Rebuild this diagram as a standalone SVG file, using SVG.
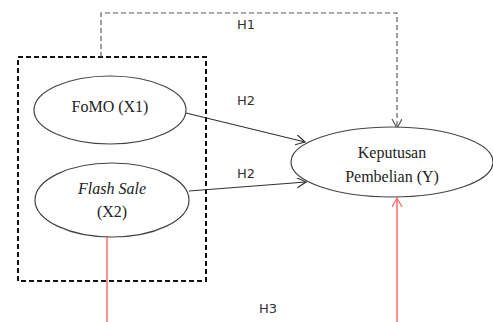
<svg xmlns="http://www.w3.org/2000/svg" width="493" height="322" viewBox="0 0 493 322">
<style>
.node{fill:#fff;stroke:#444;stroke-width:1.2}
.lbl{font-family:"Liberation Serif",serif;font-size:16px;fill:#222;text-anchor:middle}
.h{font-family:"DejaVu Sans","Liberation Sans",sans-serif;font-size:13px;fill:#333;text-anchor:middle}
.arr{fill:none;stroke:#333;stroke-width:1.2}
.red{fill:none;stroke:#ff6b6b;stroke-width:1.5}
</style>
<defs>
<marker id="ah" markerWidth="12" markerHeight="12" refX="10" refY="5" orient="auto" markerUnits="userSpaceOnUse"><path d="M1,0 L10,5 L1,10" fill="none" stroke="#333" stroke-width="1.2"/></marker>
<marker id="ahg" markerWidth="12" markerHeight="12" refX="10" refY="5" orient="auto" markerUnits="userSpaceOnUse"><path d="M1,0 L10,5 L1,10" fill="none" stroke="#555" stroke-width="1.2"/></marker>
<marker id="ahr" markerWidth="12" markerHeight="12" refX="10" refY="5" orient="auto" markerUnits="userSpaceOnUse"><path d="M1,0 L10,5 L1,10" fill="none" stroke="#ff6b6b" stroke-width="1.3"/></marker>
</defs>
<rect width="493" height="322" fill="#fff"/>
<rect id="group-box" x="18" y="57" width="188" height="224" fill="none" stroke="#111" stroke-width="2" stroke-dasharray="5,3"/>
<g id="connectors">
<path d="M101,57 L101,13 L397,13 L397,128" fill="none" stroke="#555" stroke-width="1.1" stroke-dasharray="5,3" marker-end="url(#ahg)"/>
<line x1="186" y1="113" x2="305" y2="142" class="arr" marker-end="url(#ah)"/>
<line x1="189" y1="191" x2="306" y2="182" class="arr" marker-end="url(#ah)"/>
<line x1="107" y1="237" x2="107" y2="322" class="red"/>
<line x1="397" y1="322" x2="397" y2="198" class="red" marker-end="url(#ahr)"/>
<text class="h" x="246" y="29">H1</text>
<text class="h" x="246" y="105">H2</text>
<text class="h" x="246" y="178">H2</text>
<text class="h" x="268" y="313">H3</text>
</g>
<g id="fomo">
<ellipse class="node" cx="110" cy="110" rx="76" ry="34"/>
<text class="lbl" x="110" y="112">FoMO (X1)</text>
</g>
<g id="flashsale">
<ellipse class="node" cx="112" cy="200" rx="77" ry="37"/>
<text class="lbl" x="112" y="194" font-style="italic">Flash Sale</text>
<text class="lbl" x="112" y="217">(X2)</text>
</g>
<g id="keputusan">
<ellipse class="node" cx="392" cy="162" rx="101" ry="35"/>
<text class="lbl" x="392" y="158">Keputusan</text>
<text class="lbl" x="392" y="182">Pembelian (Y)</text>
</g>
</svg>
